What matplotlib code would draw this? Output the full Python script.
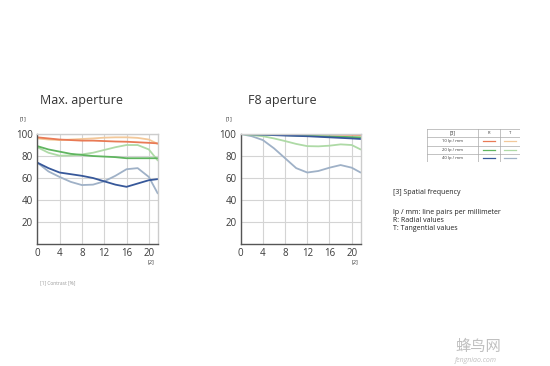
import matplotlib
matplotlib.use("Agg")
import matplotlib.pyplot as plt

plt.rcParams["font.family"] = ["Open Sans", "DejaVu Sans"]

# image height [mm]
x_left = [0, 2, 4, 6, 8, 10, 12, 14, 16, 18, 20, 21.6]
x_right = [0, 2, 4, 6, 8, 10, 12, 14, 16, 18, 20, 21.6]

# Max. aperture, contrast [%]
max_10_r = [97, 96, 95, 94.5, 94, 94, 93.6, 93.2, 93, 92.5, 92, 91.5]
max_10_t = [96, 95, 94.5, 95, 95.5, 96, 96.7, 97, 97, 96.5, 95, 91]
max_20_r = [89, 86, 84, 82, 81, 80, 79.5, 79, 78, 78, 78, 78]
max_20_t = [88, 83, 80.3, 80.5, 81.5, 83, 85.5, 88, 90, 90, 86, 76]
max_40_r = [74, 69, 65, 63.5, 62, 60, 57, 54, 52, 55, 58, 59]
max_40_t = [74, 66, 61, 56.5, 53.6, 54, 57, 62, 68, 69, 61, 46]

# F8 aperture, contrast [%]
f8_10_r = [100, 100, 100, 100, 100, 100, 99.8, 99.7, 99.6, 99.5, 99.4, 99.3]
f8_10_t = [100, 100, 100, 100, 100, 100, 100, 100, 100, 99.8, 99.6, 99.5]
f8_20_r = [100, 99.8, 99.6, 99.4, 99, 98.7, 98.4, 98.1, 97.8, 97.5, 97.2, 97]
f8_20_t = [100, 99, 98, 96, 93.6, 91, 89, 88.8, 89.4, 90.6, 90, 86]
f8_40_r = [100, 99.7, 99.4, 99, 98.6, 98.3, 98, 97.5, 97, 96.5, 96, 95.5]
f8_40_t = [100, 98, 94.5, 87, 78, 69, 65, 66.4, 69.4, 71.8, 69.4, 65]

col_10_r = "#e97a55"
col_10_t = "#f2c89a"
col_20_r = "#5fb55f"
col_20_t = "#aedaa6"
col_40_r = "#37589a"
col_40_t = "#9fb1c7"

freq_labels = ["10 lp / mm", "20 lp / mm", "40 lp / mm"]
yticks = [20, 40, 60, 80, 100]
xticks = [0, 4, 8, 12, 16, 20]

fig = plt.figure(figsize=(5.5, 3.66), dpi=100)
fig.patch.set_facecolor("white")


def style_axes(ax):
    ax.set_xlim(0, 21.6)
    ax.set_ylim(0, 100)
    ax.set_xticks(xticks)
    ax.set_yticks(yticks)
    ax.grid(True, color="#d4d4d4", linewidth=0.8)
    ax.tick_params(length=0, labelsize=7, colors="#3a3a3a", pad=3)
    for name, sp in ax.spines.items():
        sp.set_color("#555555" if name in ("left", "bottom") else "#cccccc")
        sp.set_linewidth(1.0)
    ax.set_axisbelow(True)


ax1 = fig.add_axes([0.0678, 0.3333, 0.219, 0.3005])
ax2 = fig.add_axes([0.4376, 0.3333, 0.218, 0.3005])

series_left = [
    (max_40_t, col_40_t), (max_40_r, col_40_r),
    (max_20_t, col_20_t), (max_20_r, col_20_r),
    (max_10_t, col_10_t), (max_10_r, col_10_r),
]
series_right = [
    (f8_40_t, col_40_t), (f8_20_t, col_20_t),
    (f8_10_t, col_10_t), (f8_10_r, col_10_r),
    (f8_20_r, col_20_r), (f8_40_r, col_40_r),
]
for ax, xs, series in ((ax1, x_left, series_left), (ax2, x_right, series_right)):
    style_axes(ax)
    for ys, c in series:
        ax.plot(xs, ys, color=c, linewidth=1.3, solid_joinstyle="round",
                solid_capstyle="round")

fig.text(40 / 550, 1 - 100 / 366, "Max. aperture", fontsize=9, color="#333333",
         va="center", ha="left")
fig.text(248 / 550, 1 - 100 / 366, "F8 aperture", fontsize=9, color="#333333",
         va="center", ha="left")
for xl in (20, 225):
    fig.text(xl / 550, 1 - 119 / 366, "[1]", fontsize=4, color="#333333", va="center")
for xl in (148, 352):
    fig.text(xl / 550, 1 - 262 / 366, "[2]", fontsize=4, color="#333333", va="center")
fig.text(40 / 550, 1 - 283 / 366, "[1] Contrast [%]", fontsize=3.5, color="#9a9a9a",
         va="center")

# legend table
tab = fig.add_axes([427 / 550, 1 - 162 / 366, 93 / 550, 33 / 366])
tab.set_xlim(0, 93)
tab.set_ylim(0, 33)
tab.axis("off")
col_edges = [0, 51, 73, 93]
row_edges = [0, 8.25, 16.5, 24.75, 33]
for xe in col_edges:
    tab.plot([xe, xe], [0, 33], color="#aaaaaa", linewidth=0.5)
for ye in row_edges:
    tab.plot([0, 93], [ye, ye], color="#aaaaaa", linewidth=0.5)
tab.text(25.5, 29, "[3]", fontsize=3.5, ha="center", va="center", color="#333333")
tab.text(62, 29, "R", fontsize=3, ha="center", va="center", color="#333333")
tab.text(83, 29, "T", fontsize=3, ha="center", va="center", color="#333333")
legend_cols = [(col_10_r, col_10_t), (col_20_r, col_20_t), (col_40_r, col_40_t)]
for i, (lab, (cr, ct)) in enumerate(zip(freq_labels, legend_cols)):
    yc = 20.6 - i * 8.25
    tab.text(25.5, yc, lab, fontsize=3, ha="center", va="center", color="#333333")
    tab.plot([56, 68], [yc, yc], color=cr, linewidth=0.9)
    tab.plot([77, 89], [yc, yc], color=ct, linewidth=0.9)

fig.text(393 / 550, 1 - 193 / 366, "[3] Spatial frequency", fontsize=5, color="#222222",
         va="center")
notes = ["lp / mm: line pairs per millimeter", "R: Radial values", "T: Tangential values"]
for i, line in enumerate(notes):
    fig.text(393 / 550, 1 - (213 + 8 * i) / 366, line, fontsize=5, color="#222222",
             va="center")

# watermark
fig.text(455 / 550, 1 - 346 / 366, "蜂鸟网", fontsize=11, color="#b5b5b5",
         family=["Noto Sans CJK SC", "DejaVu Sans"], va="center", alpha=0.85)
fig.text(455 / 550, 1 - 360 / 366, "fengniao.com", fontsize=5, color="#b5b5b5",
         va="center", style="italic", alpha=0.85)

fig.savefig("out.png", dpi=100, facecolor="white")
